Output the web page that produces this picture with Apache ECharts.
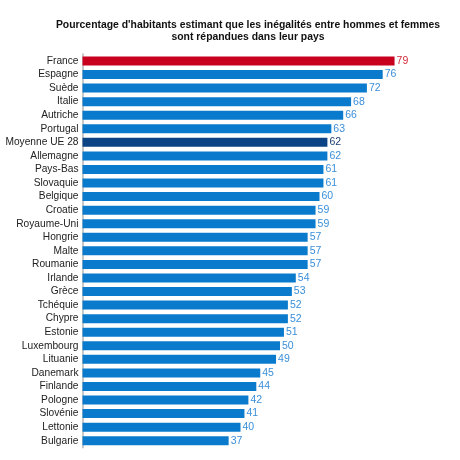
<!DOCTYPE html>
<html><head><meta charset="utf-8">
<script src="https://cdn.jsdelivr.net/npm/echarts@6/dist/echarts.min.js"></script>
<style>html,body{margin:0;padding:0;background:#fff}#c{width:460px;height:460px}</style>
</head><body><div id="c"></div>
<script>
const categories = ["France","Espagne","Suède","Italie","Autriche","Portugal","Moyenne UE 28","Allemagne","Pays-Bas","Slovaquie","Belgique","Croatie","Royaume-Uni","Hongrie","Malte","Roumanie","Irlande","Grèce","Tchéquie","Chypre","Estonie","Luxembourg","Lituanie","Danemark","Finlande","Pologne","Slovénie","Lettonie","Bulgarie"];
const values = [79,76,72,68,66,63,62,62,61,61,60,59,59,57,57,57,54,53,52,52,51,50,49,45,44,42,41,40,37];
const titleText = "Pourcentage d'habitants estimant que les inégalités entre hommes et femmes\nsont répandues dans leur pays";

function barColor(name){ return name==="France" ? "#c8001e" : (name==="Moyenne UE 28" ? "#0b4385" : "#0a7bcc"); }
function labelColor(name){ return name==="France" ? "#d42b3a" : (name==="Moyenne UE 28" ? "#1d3f6e" : "#3b8fd9"); }

const data = categories.map((c,i)=>({
  value: values[i],
  itemStyle:{color:barColor(c)},
  label:{color:labelColor(c)}
}));

const chart = echarts.init(document.getElementById('c'));
chart.setOption({
  animation:false,
  title:{text:titleText,left:243,textAlign:'center',top:14,
    textStyle:{fontFamily:'Liberation Sans',fontSize:10.4,fontWeight:'bold',color:'#111',lineHeight:12}},
  grid:{left:82.5,top:54.2,right:22,bottom:12.5,containLabel:false},
  xAxis:{type:'value',min:0,max:90,show:false,splitLine:{show:false}},
  yAxis:{type:'category',data:categories,inverse:true,
    axisLine:{show:true,lineStyle:{color:'#c8c8c8',width:2}},
    axisTick:{show:false},
    axisLabel:{interval:0,fontFamily:'Liberation Sans',fontSize:10.2,color:'#222',margin:4}},
  series:[{type:'bar',data:data,barWidth:9,
    label:{show:true,position:'right',distance:2,fontFamily:'Liberation Sans',fontSize:10.5}}]
});
</script></body></html>
